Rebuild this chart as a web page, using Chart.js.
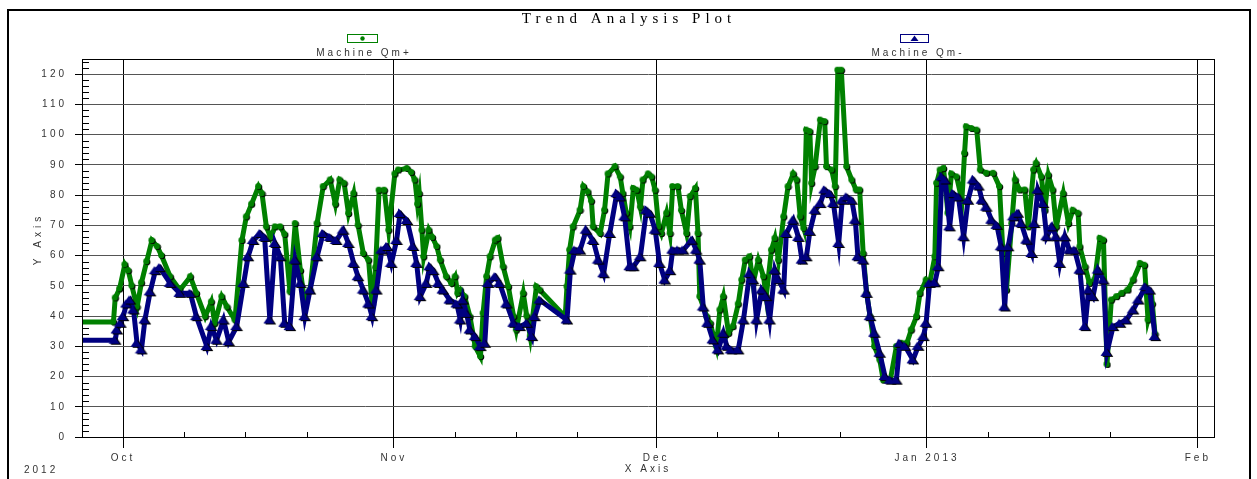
<!DOCTYPE html>
<html lang="en">
<head>
<meta charset="UTF-8">
<title>Trend Analysis Plot</title>
<script src="https://cdn.jsdelivr.net/npm/chart.js@4/dist/chart.umd.min.js"></script>
<style>
    html, body { margin: 0; padding: 0; background: #ffffff; }
    canvas { display: block; }
</style>
</head>
<body>
<canvas id="trendChart" width="1257" height="479"></canvas>
<script>
// x values are days counted from 1 Oct 2012
const monthDays = [0, 31, 61, 92, 123];
const monthLabels = ['Oct', 'Nov', 'Dec', 'Jan 2013', 'Feb'];
const weekDays = [7, 14, 21, 38, 45, 52, 68, 75, 82, 99, 106, 113];

const qmPlusDays = [-12, -1.1, -0.9, -0.4, 0.2, 0.6, 1.0, 1.6, 2.1, 2.7, 3.3, 3.9, 4.4, 5.4, 6.5, 7.7, 8.4, 9.4, 10.1, 10.5,
    11.3, 11.9, 12.8, 13.6, 14.1, 14.7, 15.5, 15.9, 16.4, 16.9, 17.4, 18.0, 18.5, 19.1, 19.7, 20.3, 20.8, 21.4, 22.2, 22.9,
    23.7, 24.3, 24.8, 25.3, 25.8, 26.4, 26.9, 27.5, 28.1, 28.5, 28.9, 29.3, 29.9, 30.4, 31.1, 31.5, 32.5, 33.0, 33.4, 33.7,
    33.9, 34.2, 34.4, 35.0, 35.4, 35.9, 36.3, 37.0, 37.6, 38.0, 38.3, 38.6, 39.1, 39.7, 40.3, 40.9, 41.2, 41.6, 42.0, 42.6,
    42.9, 43.5, 44.1, 44.7, 45.0, 45.8, 46.2, 46.6, 47.3, 47.7, 50.6, 50.8, 51.1, 51.5, 52.3, 52.7, 53.2, 53.6, 53.8, 54.6,
    55.1, 55.5, 56.3, 56.9, 57.2, 57.6, 58.0, 58.4, 58.8, 59.2, 59.5, 60.1, 60.5, 60.9, 61.3, 61.6, 62.2, 62.6, 62.9, 63.5,
    63.9, 64.5, 64.9, 65.5, 65.8, 66.0, 66.8, 67.2, 67.9, 68.3, 68.7, 69.3, 69.8, 70.4, 70.8, 71.2, 71.7, 72.1, 72.7, 73.3,
    73.6, 74.2, 74.6, 75.0, 75.6, 76.1, 76.7, 77.1, 77.5, 77.9, 78.2, 78.6, 78.8, 79.2, 79.8, 80.3, 80.5, 81.1, 81.5, 81.8,
    82.2, 82.8, 83.4, 83.9, 84.3, 84.7, 85.1, 85.5, 86.0, 86.6, 87.0, 87.8, 88.5, 89.1, 89.7, 90.2, 90.8, 91.2, 91.9, 92.3,
    92.9, 93.1, 93.5, 93.9, 94.4, 94.8, 95.4, 96.0, 96.3, 96.5, 97.1, 97.7, 98.1, 98.8, 99.6, 100.3, 100.7, 101.1, 101.7, 102.1,
    102.6, 103.2, 103.6, 104.2, 104.5, 105.1, 105.5, 105.9, 106.4, 106.8, 107.6, 108.2, 108.7, 109.3, 109.5, 110.1, 110.6, 111.2, 111.8, 112.2,
    112.6, 113.1, 113.7, 114.3, 115.0, 115.6, 116.4, 116.9, 117.3, 117.8, 118.1];
const qmPlusVals = [38, 38, 46, 49, 57, 55, 50, 43, 51, 58, 65, 63, 60, 53, 48.6, 53, 47.5, 39.8, 44.7, 37.6,
    46.4, 43, 38.7, 65, 72.8, 77, 82.8, 80.5, 69.5, 66, 69.5, 69.5, 67, 48, 70.6, 55, 44, 48.6, 70.6, 82.8,
    85, 77, 85, 83.9, 73.9, 80.5, 70, 60.7, 58.5, 44, 56, 81.6, 81.6, 68.4, 87, 88.3, 88.8, 87.5, 85, 77,
    80.5, 68.4, 59.6, 68.4, 66, 63, 58.5, 53, 50.8, 53, 47.5, 48.6, 46.4, 39.8, 29.9, 26.6, 40.9, 53, 59.6, 65.1,
    65.7, 56.3, 49.7, 39.8, 35.4, 47.5, 40, 33.2, 49.7, 48.6, 39.8, 49.7, 61.8, 69.5, 75, 82.8, 81, 78, 69.5, 67.3,
    75, 87, 89.4, 86, 80.5, 74, 69.5, 82.2, 81.6, 76, 85, 87, 86, 81.6, 69.5, 67.3, 74, 67.3, 82.8, 82.8,
    74.9, 67.3, 79.5, 82.2, 67.3, 46.4, 39.8, 37.6, 29.9, 42, 46.4, 34.3, 36.5, 44, 51.9, 58.5, 59.6, 50.8, 58.5, 53,
    46.4, 61.8, 65.7, 58.5, 72.8, 82.8, 87, 85, 72.8, 69, 101.5, 101, 83.9, 89.4, 104.8, 104.3, 89.4, 88.3, 82.8, 121.3,
    121.3, 89.4, 85, 81.7, 81.7, 60.7, 47.5, 39.8, 29.9, 25.5, 18.8, 18.8, 29.9, 31, 31, 35.4, 39.8, 47.5, 51.9, 50.8,
    59.6, 83.9, 88.3, 88.8, 74, 87, 86, 78.3, 93.8, 102.6, 102, 101.5, 88.3, 87.2, 87.2, 82.8, 60.7, 48.6, 70.6, 85,
    81.7, 81.7, 69.5, 88.3, 90.5, 86, 75, 86.6, 81.7, 69.5, 80.5, 70.6, 75, 74, 62.9, 56.3, 50.8, 52, 65.7, 65.1,
    24, 45.3, 46.4, 47.5, 48.6, 51.9, 57.4, 56.8, 38.7, 44, 34];

const qmMinusDays = [-12, -0.9, -0.7, -0.3, 0.0, 0.4, 0.8, 1.2, 1.6, 2.1, 2.5, 3.1, 3.7, 4.2, 5.4, 6.5, 7.7, 8.4, 9.6, 10.1,
    10.7, 11.5, 12.1, 13.0, 13.8, 14.3, 14.9, 15.7, 16.2, 16.8, 17.4, 18.0, 18.5, 19.1, 19.7, 20.3, 20.8, 21.4, 22.2, 22.9,
    23.7, 24.4, 25.2, 25.8, 26.4, 26.9, 27.5, 28.1, 28.5, 29.0, 29.6, 30.2, 30.7, 31.3, 31.7, 32.5, 33.2, 33.6, 34.0, 34.7,
    35.1, 35.5, 36.1, 36.6, 37.4, 38.2, 38.6, 38.9, 39.3, 39.7, 40.3, 40.9, 41.4, 41.8, 42.6, 43.1, 43.9, 44.7, 45.4, 46.2,
    46.8, 47.1, 47.7, 50.8, 51.2, 51.7, 52.3, 53.0, 53.8, 54.4, 55.0, 55.7, 56.5, 56.9, 57.4, 58.0, 58.4, 59.2, 59.9, 60.3,
    60.9, 61.4, 62.0, 62.6, 62.9, 63.5, 64.1, 65.1, 65.6, 66.0, 66.4, 66.9, 67.5, 68.1, 68.7, 69.1, 69.6, 70.4, 71.0, 71.7,
    72.1, 72.5, 73.1, 73.6, 74.0, 74.6, 75.0, 75.6, 75.9, 76.7, 77.3, 77.7, 78.2, 78.6, 79.2, 79.8, 80.3, 80.9, 81.3, 81.9,
    82.3, 82.8, 83.4, 83.8, 84.1, 84.7, 85.1, 85.5, 86.0, 86.6, 87.2, 87.8, 88.5, 88.9, 89.5, 90.4, 91.0, 91.6, 91.9, 92.3,
    92.9, 93.3, 93.7, 94.1, 94.6, 95.0, 95.6, 96.2, 96.7, 97.3, 97.9, 98.3, 98.8, 99.4, 100.0, 100.5, 100.9, 101.3, 101.9, 102.4,
    102.8, 103.4, 104.0, 104.3, 104.7, 105.3, 105.7, 106.3, 106.8, 107.2, 107.8, 108.3, 108.9, 109.5, 110.1, 110.5, 111.0, 111.6, 112.2, 112.6,
    113.3, 114.1, 114.8, 115.6, 116.2, 117.0, 117.5, 118.1];
const qmMinusVals = [32, 32, 35.4, 37.6, 39.8, 44, 45.3, 42, 31, 28.8, 38.7, 48, 55, 56, 50.8, 47.5, 47.5, 39.8, 29.9, 36.5,
    32, 38.7, 31.5, 36.5, 50.8, 59.6, 65, 67.3, 66, 38.7, 64, 59.6, 37.6, 36.5, 58.5, 50.8, 39.8, 48.6, 59.6, 67.3,
    66, 65, 68.4, 64, 57.4, 53, 48.6, 44, 39.8, 48.6, 61.8, 63, 57.4, 65, 73.9, 71.6, 63, 57.4, 46.4, 50.8,
    56.3, 55, 50.8, 48.6, 45.3, 44, 38.7, 45.3, 40.9, 35.4, 33.2, 29.9, 31, 50.8, 53, 50.8, 44, 37.6, 36.5, 37.6,
    33.2, 39.8, 45.3, 38.7, 55.2, 61.8, 61.8, 68.4, 65, 58.5, 54, 67.3, 80.5, 79.4, 72.8, 56.3, 56.3, 59.6, 75, 74,
    68.4, 57.4, 51.9, 55, 61.8, 61.8, 61.8, 65.1, 61.8, 58.5, 43, 37.6, 32.1, 28.8, 34.3, 30, 28.8, 28.8, 38.7, 54,
    52, 38.7, 48.6, 46.4, 38.7, 55.2, 52, 48.6, 67.3, 71.7, 66, 58.5, 59.6, 68, 75, 77.2, 81.7, 80.5, 77.2, 64,
    78.3, 79.4, 78.3, 71.7, 59.6, 58.5, 47.5, 39.8, 34.3, 27.7, 20, 18.8, 18.8, 31, 30, 25.5, 30, 33.2, 37.6, 50.8,
    51, 56.3, 86, 85, 69.5, 80.5, 79.4, 66.2, 78.3, 85, 83, 78.3, 76, 71.7, 70, 62.9, 43, 62.9, 72.8, 74,
    70.6, 65.1, 60.7, 70.6, 81.7, 77.2, 66.2, 69.5, 66.2, 57.4, 66.2, 61.8, 61.8, 55.2, 36.5, 48.6, 46.4, 55.2, 51.9, 28,
    36.5, 37.6, 38.7, 42, 45.3, 49.7, 48.6, 33.2];

const sans = 'Arial, "Liberation Sans", sans-serif';

// marker images with a small dark drop shadow
function circleMark() {
    const c = document.createElement('canvas');
    c.width = 9; c.height = 9;
    const g = c.getContext('2d');
    g.fillStyle = '#000000';
    g.beginPath(); g.arc(5.2, 5.0, 3.1, 0, Math.PI * 2); g.fill();
    g.fillStyle = '#008000';
    g.beginPath(); g.arc(4.2, 4.2, 3.1, 0, Math.PI * 2); g.fill();
    return c;
}
function triangleMark() {
    const c = document.createElement('canvas');
    c.width = 14; c.height = 11;
    const g = c.getContext('2d');
    const tri = (dx, dy, col) => {
        g.fillStyle = col;
        g.beginPath();
        g.moveTo(6 + dx, 1 + dy); g.lineTo(11.5 + dx, 9 + dy); g.lineTo(0.5 + dx, 9 + dy);
        g.closePath(); g.fill();
    };
    tri(1.8, 1, '#000000');
    tri(0, 0, '#000080');
    return c;
}

const extras = {
    id: 'extras',
    beforeDraw(chart) {
        chart.ctx.letterSpacing = '3px';
    },
    beforeDatasetsDraw(chart) {
        const ctx = chart.ctx, a = chart.chartArea;
        const xs = chart.scales.x, ys = chart.scales.y;
        ctx.save();
        ctx.strokeStyle = '#000000';
        ctx.lineWidth = 1;
        ctx.beginPath();
        for (let v = 2; v < 125; v += 2) {
            if (v % 10 === 0) continue;
            const y = Math.round(ys.getPixelForValue(v)) + 0.5;
            ctx.moveTo(a.left, y); ctx.lineTo(a.left + 7, y);
        }
        weekDays.forEach(d => {
            const x = Math.round(xs.getPixelForValue(d)) + 0.5;
            ctx.moveTo(x, a.bottom); ctx.lineTo(x, a.bottom - 5);
        });
        ctx.stroke();
        ctx.restore();
    },
    afterDraw(chart) {
        const ctx = chart.ctx, a = chart.chartArea;
        ctx.save();
        ctx.strokeStyle = '#000000';
        ctx.lineWidth = 1;
        ctx.strokeRect(Math.round(a.left) + 0.5, Math.round(a.top) + 0.5, Math.round(a.right - a.left), Math.round(a.bottom - a.top));
        ctx.lineWidth = 2;
        ctx.strokeRect(8, 10, 1242, 520);

        // title
        ctx.fillStyle = '#000000';
        ctx.letterSpacing = '5px';
        ctx.font = '15px "Times New Roman", "Liberation Serif", serif';
        ctx.textAlign = 'center';
        ctx.textBaseline = 'alphabetic';
        ctx.fillText('Trend Analysis Plot', 629, 23);

        // legend
        ctx.letterSpacing = '3px';
        ctx.font = '10px ' + sans;
        ctx.fillStyle = '#333333';
        ctx.fillText('Machine Qm+', 364, 56);
        ctx.fillText('Machine Qm-', 918, 56);
        ctx.lineWidth = 1;
        ctx.strokeStyle = '#008000';
        ctx.strokeRect(347.5, 34.5, 30, 8);
        ctx.fillStyle = '#008000';
        ctx.beginPath(); ctx.arc(362.5, 38.5, 2.2, 0, Math.PI * 2); ctx.fill();
        ctx.strokeStyle = '#000080';
        ctx.strokeRect(900.5, 34.5, 28, 8);
        ctx.fillStyle = '#000080';
        ctx.beginPath();
        ctx.moveTo(914.5, 35.5); ctx.lineTo(918.5, 41); ctx.lineTo(910.5, 41);
        ctx.closePath(); ctx.fill();

        // axis titles
        ctx.fillStyle = '#333333';
        ctx.fillText('X Axis', 648, 472);
        ctx.textAlign = 'left';
        ctx.fillText('2012', 24, 473);
        ctx.translate(41, 241);
        ctx.rotate(-Math.PI / 2);
        ctx.textAlign = 'center';
        ctx.letterSpacing = '4px';
        ctx.fillText('Y Axis', 2, 0);
        ctx.restore();
    }
};

const ctx = document.getElementById('trendChart').getContext('2d');

new Chart(ctx, {
    type: 'line',
    data: {
        datasets: [
            {
                label: 'Machine Qm+',
                data: qmPlusDays.map((d, i) => ({ x: d, y: qmPlusVals[i] })),
                borderColor: '#008000',
                borderWidth: 5,
                pointStyle: circleMark(),
                pointRadius: 4,
                tension: 0,
                order: 2
            },
            {
                label: 'Machine Qm-',
                data: qmMinusDays.map((d, i) => ({ x: d, y: qmMinusVals[i] })),
                borderColor: '#000080',
                borderWidth: 5,
                pointStyle: triangleMark(),
                pointRadius: 5,
                tension: 0,
                order: 1
            }
        ]
    },
    options: {
        responsive: false,
        animation: false,
        events: [],
        layout: { padding: { left: 0, top: 59, right: 43, bottom: 0 } },
        plugins: {
            legend: { display: false },
            tooltip: { enabled: false }
        },
        scales: {
            x: {
                type: 'linear',
                min: -4.7,
                max: 124.85,
                afterBuildTicks: s => { s.ticks = monthDays.map(v => ({ value: v })); },
                afterFit: s => { s.height = 42; },
                grid: { color: '#000000', tickLength: 11, tickColor: '#000000' },
                border: { color: '#000000' },
                ticks: {
                    autoSkip: false,
                    maxRotation: 0,
                    padding: 4,
                    color: '#333333',
                    font: { family: sans, size: 10 },
                    callback: (v, i) => monthLabels[i]
                }
            },
            y: {
                min: 0,
                max: 125,
                afterBuildTicks: s => { s.ticks = s.ticks.filter(t => t.value <= 120); },
                afterFit: s => { s.width = 82; },
                grid: { color: '#555555', tickLength: 7, tickColor: '#000000' },
                border: { color: '#000000' },
                ticks: {
                    stepSize: 10,
                    padding: 8,
                    color: '#333333',
                    font: { family: sans, size: 10 }
                }
            }
        }
    },
    plugins: [extras]
});
</script>
</body>
</html>
